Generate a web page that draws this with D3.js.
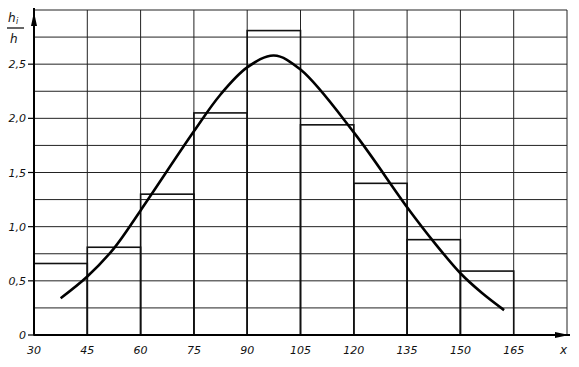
<!DOCTYPE html>
<html>
<head>
<meta charset="utf-8">
<script src="https://cdn.jsdelivr.net/npm/d3@7"></script>
<style>
  body { margin: 0; background: #fff; }
  svg text { font-family: "DejaVu Sans", sans-serif; font-style: italic; fill: #111; }
  .grid line { stroke: #222; stroke-width: 1; }
  .bar { fill: none; stroke: #111; stroke-width: 1.6; }
  .curve { fill: none; stroke: #000; stroke-width: 2.6; }
  .axis { stroke: #000; stroke-width: 2; }
</style>
</head>
<body>
<svg id="graph" width="579" height="367"></svg>
<script>
// interval edges and relative frequencies h_i / h
var edges = [30, 45, 60, 75, 90, 105, 120, 135, 150, 165]
var heights = [0.66, 0.81, 1.30, 2.05, 2.81, 1.94, 1.40, 0.88, 0.59]

// fitted curve
var curveX = [37.5, 45, 52.5, 60, 75, 82.5, 90, 97.5, 105, 120, 135, 142.5, 150, 156, 162.3]
var curveY = [0.34, 0.54, 0.8, 1.15, 1.88, 2.22, 2.47, 2.58, 2.45, 1.87, 1.18, 0.86, 0.57, 0.39, 0.23]

var xTicks = [30, 45, 60, 75, 90, 105, 120, 135, 150, 165]
var xGrid = [45, 60, 75, 90, 105, 120, 135, 150, 165, 180]
var yTicks = [0, 0.5, 1.0, 1.5, 2.0, 2.5]
var yTickLabels = ["0", "0,5", "1,0", "1,5", "2,0", "2,5"]
var yGrid = [0.25, 0.5, 0.75, 1, 1.25, 1.5, 1.75, 2, 2.25, 2.5, 2.75, 3]

var svg = d3.select("#graph")

var xScale = d3.scaleLinear().domain([30, 180]).range([34, 567])
var yScale = d3.scaleLinear().domain([0, 3]).range([335, 10])

var grid = svg.append("g").attr("class", "grid")
grid.selectAll(".v").data(xGrid).enter().append("line")
    .attr("x1", d => xScale(d)).attr("x2", d => xScale(d))
    .attr("y1", yScale(0)).attr("y2", yScale(3))
grid.selectAll(".h").data(yGrid).enter().append("line")
    .attr("x1", xScale(30)).attr("x2", xScale(180))
    .attr("y1", d => yScale(d)).attr("y2", d => yScale(d))

// histogram bars
svg.selectAll(".bar")
    .data(heights)
    .enter().append("rect")
    .attr("class", "bar")
    .attr("x", (d, i) => xScale(edges[i]))
    .attr("width", (d, i) => xScale(edges[i + 1]) - xScale(edges[i]))
    .attr("y", d => yScale(d))
    .attr("height", d => yScale(0) - yScale(d))

var line = d3.line()
    .x(d => xScale(d[0]))
    .y(d => yScale(d[1]))
    .curve(d3.curveCatmullRom.alpha(0.5))

svg.append("path")
    .datum(curveX.map((x, i) => [x, curveY[i]]))
    .attr("class", "curve")
    .attr("d", line)

// axes
svg.append("line").attr("class", "axis")
    .attr("x1", xScale(30)).attr("x2", xScale(180) + 3)
    .attr("y1", yScale(0)).attr("y2", yScale(0))
svg.append("line").attr("class", "axis")
    .attr("x1", xScale(30)).attr("x2", xScale(30))
    .attr("y1", yScale(0)).attr("y2", yScale(3) - 2)

// arrow heads
var x0 = xScale(30), y0 = yScale(0)
svg.append("path")
    .attr("d", "M" + (x0 - 3) + "," + (yScale(3) + 16) + "L" + x0 + "," + (yScale(3) + 2) + "L" + (x0 + 3) + "," + (yScale(3) + 16) + "Z")
    .attr("fill", "#000")
svg.append("path")
    .attr("d", "M" + (xScale(180) - 12) + "," + (y0 - 3) + "L" + (xScale(180) + 2) + "," + y0 + "L" + (xScale(180) - 12) + "," + (y0 + 3) + "Z")
    .attr("fill", "#000")

// tick marks
svg.selectAll(".ytick").data(yTicks).enter().append("line")
    .attr("x1", x0 - 6).attr("x2", x0)
    .attr("y1", d => yScale(d)).attr("y2", d => yScale(d))
    .attr("stroke", "#000").attr("stroke-width", 1.2)

svg.selectAll(".ylab").data(yTicks).enter().append("text")
    .attr("x", x0 - 8)
    .attr("y", d => yScale(d) + 4)
    .attr("text-anchor", "end")
    .attr("font-size", 11)
    .text((d, i) => yTickLabels[i])

svg.selectAll(".xlab").data(xTicks).enter().append("text")
    .attr("x", d => xScale(d))
    .attr("y", 354)
    .attr("text-anchor", "middle")
    .attr("font-size", 11)
    .text(d => d)

svg.append("text").attr("x", 560).attr("y", 354).attr("font-size", 12).text("x")

// y label h_i / h
svg.append("text").attr("x", 8).attr("y", 22).attr("font-size", 12).text("h")
svg.append("text").attr("x", 16).attr("y", 24).attr("font-size", 8).text("i")
svg.append("line").attr("x1", 7).attr("x2", 24).attr("y1", 28).attr("y2", 28)
    .attr("stroke", "#000").attr("stroke-width", 1.2)
svg.append("text").attr("x", 10).attr("y", 43).attr("font-size", 12).text("h")
</script>
</body>
</html>
